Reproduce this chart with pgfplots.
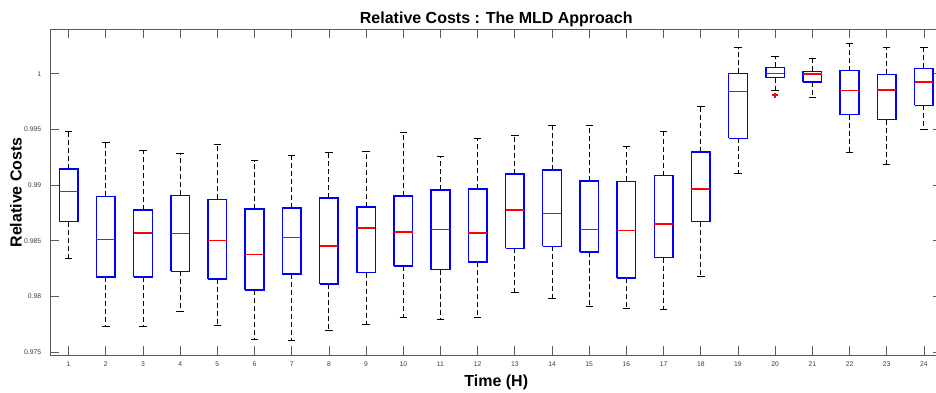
\documentclass[border=0pt]{standalone}
\usepackage{pgfplots}
\pgfplotsset{compat=1.18}
\usepackage{fontspec}
\setmainfont{Liberation Sans}
\definecolor{mblue}{RGB}{0,0,255}
\definecolor{mred}{RGB}{255,0,0}
\definecolor{axgray}{RGB}{90,90,90}
\definecolor{lblgray}{RGB}{60,60,60}

\newcommand{\bx}[6]{%
  \pgfmathsetmacro\xl{#1-0.25}\pgfmathsetmacro\xr{#1+0.25}%
  \pgfmathsetmacro\cl{#1-0.1}\pgfmathsetmacro\cright{#1+0.1}%
  \addplot[color=black, line width=0.9pt, dash pattern=on 5pt off 3pt] coordinates {(#1,#3) (#1,#2)};
  \addplot[color=black, line width=0.9pt, dash pattern=on 5pt off 3pt] coordinates {(#1,#5) (#1,#6)};
  \addplot[color=black, line width=0.9pt, solid] coordinates {(\cl,#2) (\cright,#2)};
  \addplot[color=black, line width=0.9pt, solid] coordinates {(\cl,#6) (\cright,#6)};
  \addplot[color=mblue, line width=1.5pt, solid, line join=miter] coordinates {(\xl,#3) (\xr,#3) (\xr,#5) (\xl,#5) (\xl,#3)};
  \addplot[color=mred, line width=1.4pt, solid] coordinates {(\xl,#4) (\xr,#4)};
}

\begin{document}
\begin{tikzpicture}
\begin{axis}[
  at={(50pt,36.3pt)}, anchor=south west,
  scale only axis, width=892.5pt, height=326.7pt,
  xmin=0.5, xmax=24.5,
  ymin=0.9747, ymax=1.00401,
  xtick={1,...,24},
  ytick={0.975,0.98,0.985,0.99,0.995,1},
  yticklabels={0.975,0.98,0.985,0.99,0.995,1},
  xtick pos=both, ytick pos=both,
  tick align=inside,
  major tick length=9.3pt,
  minor tick num=0,
  axis line style={color=axgray, line width=0.8pt},
  every tick/.style={color=axgray, line width=0.8pt},
  /pgf/number format/assume math mode=true,
  tick label style={font=\fontsize{6.8}{7}\selectfont, color=lblgray},
  xticklabel style={anchor=base, yshift=-10.6pt},
  yticklabel style={anchor=east, xshift=-5.3pt},
  title={Relative Costs : The MLD Approach},
  title style={font=\fontsize{16}{18}\selectfont\bfseries, anchor=base, at={(0.5,1)}, yshift=-0.3pt},
  xlabel={Time (H)},
  xlabel style={font=\fontsize{16}{18}\selectfont\bfseries, anchor=base, at={(axis description cs:0.5,0)}, yshift=-31pt},
  clip=false,
]
\bx{1}{0.98340}{0.98674}{0.98941}{0.99147}{0.99482}
\bx{2}{0.97729}{0.98175}{0.98513}{0.98899}{0.99383}
\bx{3}{0.97732}{0.98175}{0.98570}{0.98779}{0.99315}
\bx{4}{0.97870}{0.98226}{0.98567}{0.98908}{0.99288}
\bx{5}{0.97741}{0.98157}{0.98504}{0.98872}{0.99362}
\bx{6}{0.97612}{0.98061}{0.98378}{0.98788}{0.99219}
\bx{7}{0.97603}{0.98205}{0.98531}{0.98797}{0.99270}
\bx{8}{0.97699}{0.98115}{0.98453}{0.98887}{0.99297}
\bx{9}{0.97747}{0.98216}{0.98617}{0.98806}{0.99306}
\bx{10}{0.97812}{0.98273}{0.98581}{0.98902}{0.99473}
\bx{11}{0.97798}{0.98243}{0.98600}{0.98958}{0.99258}
\bx{12}{0.97810}{0.98309}{0.98570}{0.98967}{0.99422}
\bx{13}{0.98034}{0.98432}{0.98776}{0.99099}{0.99443}
\bx{14}{0.97980}{0.98450}{0.98746}{0.99135}{0.99539}
\bx{15}{0.97914}{0.98402}{0.98600}{0.99036}{0.99539}
\bx{16}{0.97890}{0.98169}{0.98593}{0.99033}{0.99350}
\bx{17}{0.97886}{0.98349}{0.98651}{0.99085}{0.99486}
\bx{18}{0.98179}{0.98672}{0.98965}{0.99297}{0.99704}
\bx{19}{0.99109}{0.99420}{0.99839}{1.00003}{1.00234}
\bx{20}{0.99851}{0.99964}{1.00003}{1.00057}{1.00153}
\bx{21}{0.99785}{0.99926}{0.99997}{1.00021}{1.00141}
\bx{22}{0.99291}{0.99632}{0.99848}{1.00027}{1.00267}
\bx{23}{0.99190}{0.99587}{0.99854}{0.99995}{1.00234}
\bx{24}{0.99504}{0.99716}{0.99926}{1.00048}{1.00234}
\addplot[only marks, mark=+, mark size=2.8pt, mark options={color=mred, line width=1.8pt, solid}] coordinates {(20,0.99806)};
\end{axis}
\node[rotate=90, anchor=base, font=\fontsize{16}{18}\selectfont\bfseries, inner sep=0pt] at (21.7pt,199.65pt) {Relative Costs};
\pgfresetboundingbox
\path[use as bounding box] (0,0) rectangle (936pt,392pt);
\end{tikzpicture}
\end{document}
